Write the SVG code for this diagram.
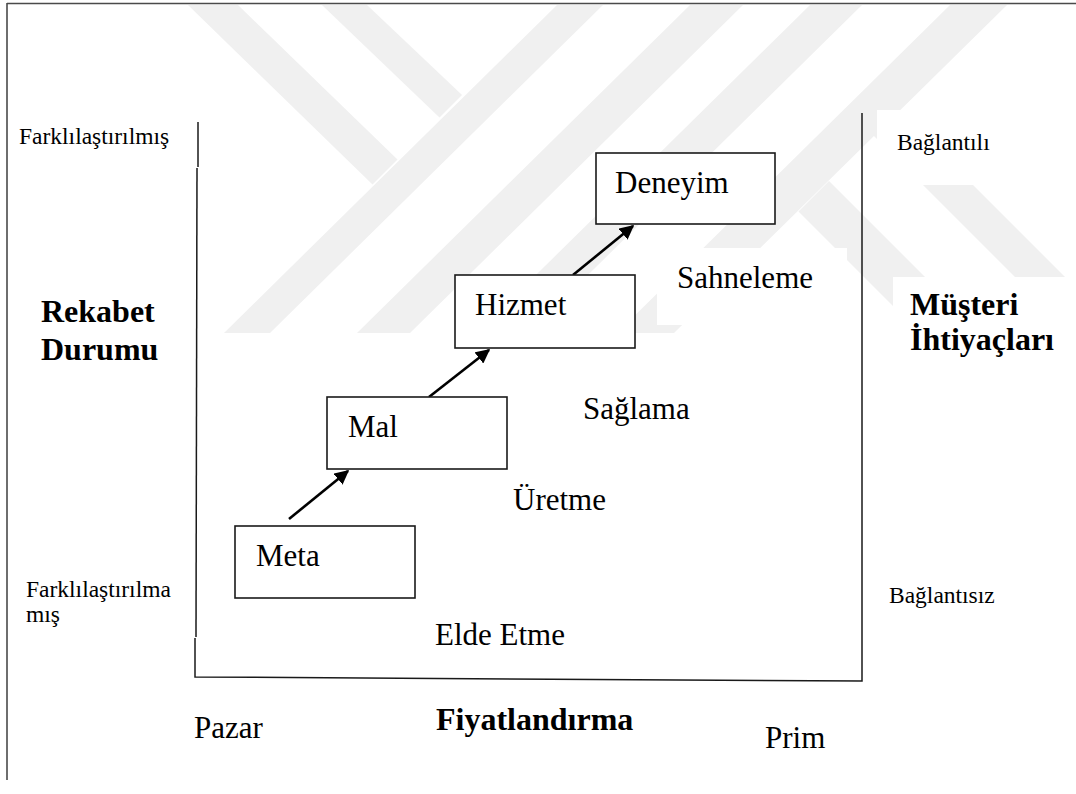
<svg xmlns="http://www.w3.org/2000/svg" width="1076" height="794" viewBox="0 0 1076 794">
<defs>
<style>
.wm{fill:#f0f0f0}
.bg{fill:#ffffff}
.frame{stroke:#4a4a4a;stroke-width:1.6;fill:none}
.axis{stroke:#1a1a1a;stroke-width:1.5;fill:none}
.box{fill:#ffffff;stroke:#1a1a1a;stroke-width:1.6}
.lbl{font-family:"Liberation Serif","Times New Roman",serif;font-size:31px;fill:#000}
.sm{font-family:"Liberation Serif","Times New Roman",serif;font-size:23.5px;fill:#000}
.bd{font-family:"Liberation Serif","Times New Roman",serif;font-size:32px;font-weight:bold;fill:#000}
.arr{stroke:#000;stroke-width:2.6;fill:none;marker-end:url(#ah)}
</style>
<marker id="ah" viewBox="0 0 10 10" refX="9" refY="5" markerWidth="5.5" markerHeight="5.5" orient="auto" markerUnits="strokeWidth">
<path d="M0,0 L10,5 L0,10 z" fill="#000"/>
</marker>
<linearGradient id="bgr" x1="0" y1="0" x2="1" y2="0">
<stop offset="0" stop-color="#444"/>
<stop offset="0.6" stop-color="#666"/>
<stop offset="1" stop-color="#ddd"/>
</linearGradient>
</defs>
<rect width="1076" height="794" fill="#fff"/>
<g id="watermark">
<polygon class="wm" points="188,5 238,5 397.5,159.5 372.5,184.5"/>
<polygon class="wm" points="322,5 367,5 462,95 439.5,117.5"/>
<polygon class="wm" points="557,5 603,5 270,333 224,333"/>
<polygon class="wm" points="690,5 743,5 410,333 357,333"/>
<polygon class="wm" points="810,5 862,5 529,333 477,333"/>
<polygon class="wm" points="950,5 1007,5 674,333 617,333"/>
<polygon class="wm" points="798.5,211.5 829,181 981,333 920,333"/>
<polygon class="wm" points="872.5,134.5 897.5,109.5 1076,288 1076,333 1071,333"/>
<rect class="bg" x="657" y="248" width="190" height="77"/>
<rect class="bg" x="877" y="110" width="199" height="75"/>
<rect class="bg" x="893" y="277" width="183" height="90"/>
</g>
<g id="frame">
<line class="frame" x1="7" y1="3.5" x2="1076" y2="3.5"/>
<line class="frame" x1="7" y1="3" x2="7" y2="780"/>
<line x1="3" y1="791" x2="800" y2="791" stroke="url(#bgr)" stroke-width="1.8"/>
</g>
<g id="axes">
<polyline class="axis" points="198,122 198,167"/>
<polyline class="axis" points="197,168 196,637"/>
<polyline class="axis" points="195,638 195,677 862,681 862,113"/>
</g>
<g id="connectors">
<line class="arr" x1="289" y1="519" x2="348" y2="471"/>
<line class="arr" x1="429" y1="397" x2="489" y2="350"/>
<line class="arr" x1="573" y1="275" x2="633" y2="226"/>
</g>
<g id="node-meta">
<rect class="box" x="235" y="526" width="180" height="72"/>
<text class="lbl" x="256" y="566">Meta</text>
</g>
<g id="node-mal">
<rect class="box" x="327" y="397" width="180" height="72"/>
<text class="lbl" x="348" y="437">Mal</text>
</g>
<g id="node-hizmet">
<rect class="box" x="455" y="275" width="180" height="73"/>
<text class="lbl" x="475" y="315">Hizmet</text>
</g>
<g id="node-deneyim">
<rect class="box" x="596" y="153" width="179" height="71"/>
<text class="lbl" x="615" y="193">Deneyim</text>
</g>
<g id="labels">
<text class="lbl" x="677" y="288">Sahneleme</text>
<text class="lbl" x="583" y="419">Sağlama</text>
<text class="lbl" x="513" y="510">Üretme</text>
<text class="lbl" x="435" y="645">Elde Etme</text>
<text class="sm" x="19" y="144">Farklılaştırılmış</text>
<text class="sm" x="26" y="597">Farklılaştırılma</text>
<text class="sm" x="26" y="622">mış</text>
<text class="sm" x="897" y="150">Bağlantılı</text>
<text class="sm" x="889" y="603">Bağlantısız</text>
<text class="bd" x="41" y="322">Rekabet</text>
<text class="bd" x="41" y="360">Durumu</text>
<text class="bd" x="910" y="315">Müşteri</text>
<text class="bd" x="910" y="350">İhtiyaçları</text>
<text class="bd" x="436" y="730">Fiyatlandırma</text>
<text class="lbl" x="194" y="738">Pazar</text>
<text class="lbl" x="765" y="748">Prim</text>
</g>
</svg>
